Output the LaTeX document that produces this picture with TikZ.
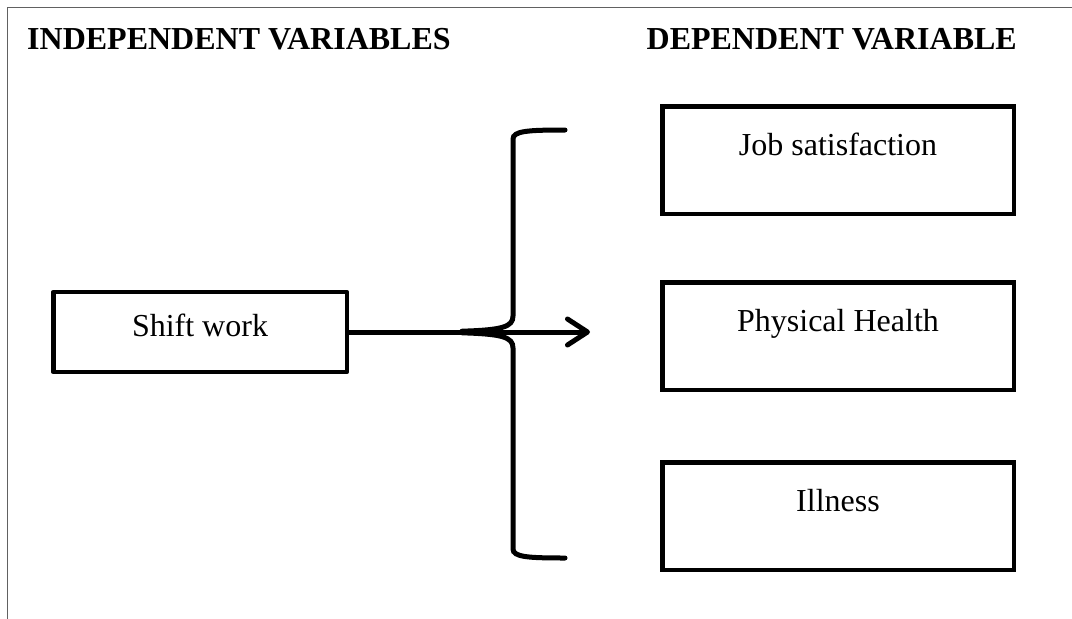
\documentclass[tikz,border=0pt]{standalone}
\usepackage{fontspec}
\setmainfont{Liberation Serif}
\usetikzlibrary{arrows.meta}
\begin{document}
\begin{tikzpicture}[x=1pt,y=-1pt,
  frameline/.style={line width=1.6pt, draw=black!62},
  hdr/.style={font=\fontsize{32}{38}\bfseries\selectfont, inner sep=0pt},
  box/.style={draw, line width=4.5pt, font=\fontsize{32}{38}\selectfont, inner sep=0pt, align=center},
  dvbox/.style={box, minimum width=351.5pt, minimum height=107.5pt, text height=22pt, text depth=32pt},
  ivbox/.style={box, line join=round, minimum width=293.5pt, minimum height=80pt, text height=22pt, text depth=14pt},
  bracel/.style={line width=5pt, line cap=round},
  arr/.style={line width=5pt, -{Straight Barb[length=20pt,width=26pt,round]}}
]
\useasboundingbox (0,0) rectangle (1072,619);
% frame
\draw[frameline] (1072,7.5) -- (7.5,7.5) -- (7.5,619);
% headings
\node[hdr, anchor=base west] (hind) at (27,49) {INDEPENDENT VARIABLES};
\node[hdr, anchor=base east] (hdep) at (1017,49) {DEPENDENT VARIABLE};
% boxes
\node[ivbox] (shift) at (200,332) {Shift work};
\node[dvbox] (job) at (838,160) {Job satisfaction};
\node[dvbox] (phys) at (838,336) {Physical Health};
\node[dvbox] (ill) at (838,516) {Illness};
% brace
\coordinate (btop) at (565,130);
\coordinate (bbot) at (565,558);
\draw[bracel] (btop) .. controls (528,130) and (513,131) .. (513,139)
  -- (513,316) .. controls (513,327) and (502,330) .. (462,331.2);
\draw[bracel] (bbot) .. controls (528,558) and (513,557) .. (513,549)
  -- (513,348) .. controls (513,337) and (502,334) .. (462,332.8);
% arrow
\coordinate (tip) at (590,332);
\draw[arr] (shift.east) -- (tip);
\end{tikzpicture}
\end{document}
